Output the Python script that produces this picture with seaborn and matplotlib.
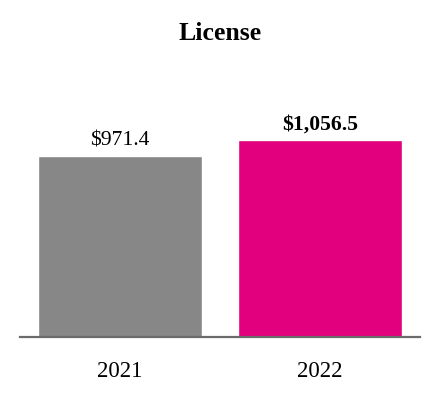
import matplotlib
matplotlib.use("Agg")
import matplotlib.pyplot as plt
import seaborn as sns
import pandas as pd

years = ["2021", "2022"]
values = [971.4, 1056.5]
labels = ["$971.4", "$1,056.5"]
colors = ["#878787", "#E3007E"]
title = "License"

sns.set_style("white")
plt.rcParams['font.family'] = ['Liberation Serif', 'DejaVu Serif']

df = pd.DataFrame({"year": years, "value": values})

fig = plt.figure(figsize=(4.4, 4.0), dpi=100)
ax = fig.add_axes([20/440, 63/400, 400/440, 277/400])
sns.barplot(data=df, x="year", y="value", hue="year", palette=colors,
            legend=False, width=0.82, saturation=1, ax=ax)
ax.set_xlim(-0.5, 1.5)
ax.set_ylim(0, 277/0.1863)
for i, (v, lab) in enumerate(zip(values, labels)):
    ax.annotate(lab, (i, v), xytext=(0, 4), textcoords="offset points",
                ha="center", va="bottom", fontsize=15.6, color="black",
                fontweight="bold" if i == 1 else "normal")
for s in ["top", "left", "right"]:
    ax.spines[s].set_visible(False)
ax.spines["bottom"].set_color("#6b6b6b")
ax.spines["bottom"].set_linewidth(1.6)
ax.set_yticks([])
ax.set_xlabel("")
ax.set_ylabel("")
ax.tick_params(axis="x", length=0, pad=17, labelsize=16.5, labelcolor="black")
fig.text(0.5, 1 - 34/400, title, ha="center", va="center",
         fontsize=18.5, fontweight="bold", color="black")
fig.savefig("out.png", dpi=100)
